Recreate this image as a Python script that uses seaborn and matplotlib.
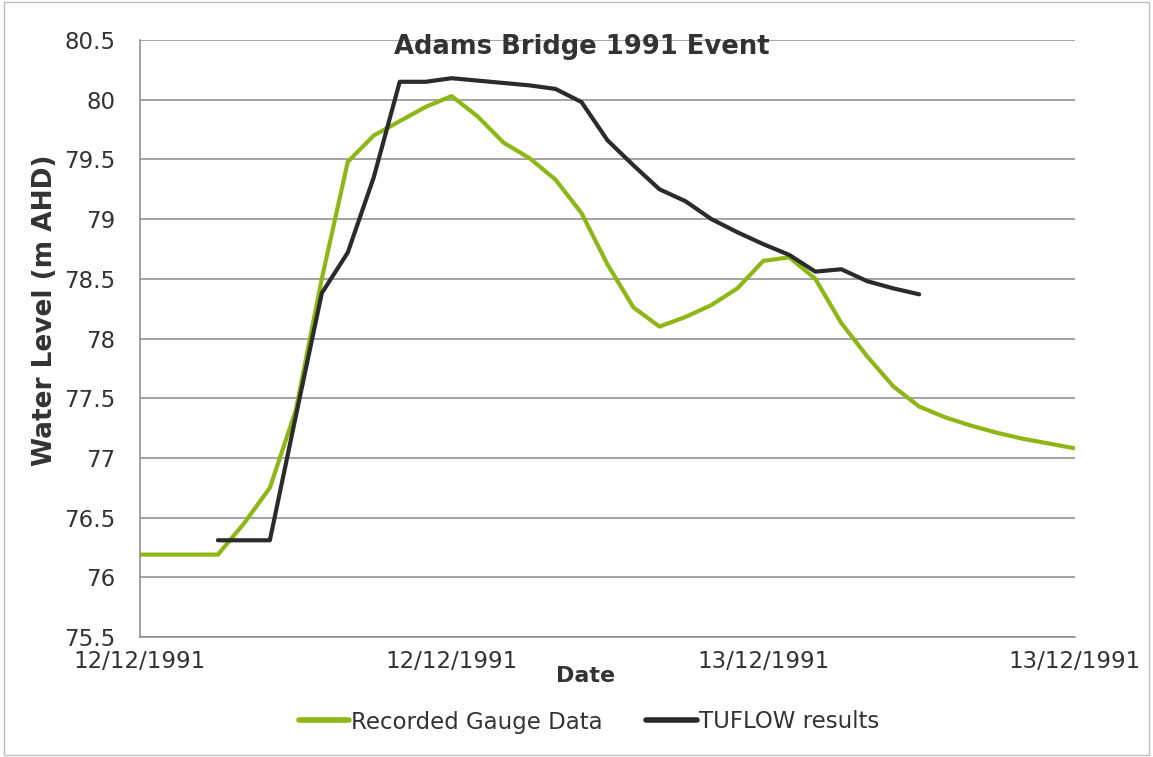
import matplotlib
matplotlib.use("Agg")
import matplotlib.pyplot as plt
import seaborn as sns
import pandas as pd
from matplotlib.patches import Rectangle

# Hours since 12/12/1991 00:00
gauge_hours = list(range(0, 37))
gauge_levels = [76.19, 76.19, 76.19, 76.19, 76.45, 76.75, 77.40, 78.50, 79.48, 79.70,
                79.82, 79.94, 80.03, 79.86, 79.64, 79.51, 79.33, 79.05, 78.62, 78.26,
                78.10, 78.18, 78.28, 78.42, 78.65, 78.68, 78.50, 78.13, 77.85, 77.60,
                77.43, 77.34, 77.27, 77.21, 77.16, 77.12, 77.08]

tuflow_hours = list(range(3, 31))
tuflow_levels = [76.31, 76.31, 76.31, 77.35, 78.38, 78.72, 79.35, 80.15, 80.15, 80.18,
                 80.16, 80.14, 80.12, 80.09, 79.98, 79.66, 79.45, 79.25, 79.15, 79.00,
                 78.89, 78.79, 78.70, 78.56, 78.58, 78.48, 78.42, 78.37]

x_tick_hours = [0, 12, 24, 36]
x_tick_labels = ["12/12/1991", "12/12/1991", "13/12/1991", "13/12/1991"]
y_ticks = [75.5, 76, 76.5, 77, 77.5, 78, 78.5, 79, 79.5, 80, 80.5]

series_names = ["Recorded Gauge Data", "TUFLOW results"]
colors = {"Recorded Gauge Data": "#8cb714", "TUFLOW results": "#2b2b2b"}

df = pd.concat([
    pd.DataFrame({"hour": gauge_hours, "level": gauge_levels, "series": series_names[0]}),
    pd.DataFrame({"hour": tuflow_hours, "level": tuflow_levels, "series": series_names[1]}),
])

sns.set_theme(style="white")
plt.rcParams["font.family"] = ["DejaVu Sans"]

fig = plt.figure(figsize=(11.53, 7.57), dpi=100)
ax = fig.add_axes([140 / 1153, 1 - 637 / 757, (1075 - 140) / 1153, (637 - 40) / 757])

sns.lineplot(data=df, x="hour", y="level", hue="series", palette=colors,
             linewidth=3, ax=ax, legend=False, estimator=None, sort=False)

ax.set_xlim(0, 36)
ax.set_ylim(75.5, 80.5)
ax.set_xticks(x_tick_hours)
ax.set_xticklabels(x_tick_labels)
ax.set_yticks(y_ticks)
ax.set_yticklabels([f"{v:g}" for v in y_ticks])
ax.tick_params(axis="both", labelsize=16.5, colors="#333333", length=5, width=1,
               direction="out")
ax.tick_params(axis="x", pad=4)
ax.tick_params(axis="y", pad=13)
ax.tick_params(axis="both", color="#888888")
ax.grid(axis="y", color="#8a8a8a", linewidth=1.1)
ax.grid(axis="x", visible=False)
for s in ["top", "right"]:
    ax.spines[s].set_visible(False)
for s in ["left", "bottom"]:
    ax.spines[s].set_color("#8a8a8a")
    ax.spines[s].set_linewidth(1.1)
ax.set_axisbelow(True)

ax.set_xlabel("")
ax.set_ylabel("")
fig.text(582 / 1153, 1 - 47 / 757, "Adams Bridge 1991 Event", ha="center", va="center",
         fontsize=18.6, fontweight="bold", color="#333333")
fig.text(586 / 1153, 1 - 676 / 757, "Date", ha="center", va="center",
         fontsize=16, fontweight="bold", color="#333333")
fig.text(45 / 1153, 1 - 310 / 757, "Water Level (m AHD)", ha="center", va="center",
         rotation=90, fontsize=19, fontweight="bold", color="#333333")

handles = [plt.Line2D([], [], color=colors[n], linewidth=4) for n in series_names]
fig.legend(handles, series_names, loc="center", bbox_to_anchor=(589 / 1153, 1 - 722 / 757),
           ncol=2, frameon=False, fontsize=16.5, handlelength=2.2, handletextpad=0.1,
           columnspacing=1.9, labelcolor="#333333")

fig.patches.append(Rectangle((4 / 1153, 0.002), 1 - 8 / 1153, 0.996, transform=fig.transFigure,
                             fill=False, edgecolor="#bdbdbd", linewidth=1))

fig.savefig("out.png", dpi=100, facecolor="white")
